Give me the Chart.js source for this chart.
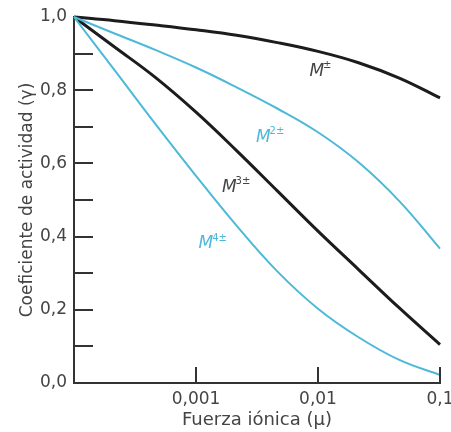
<!DOCTYPE html>
<html>
<head>
<meta charset="utf-8">
<script src="https://cdn.jsdelivr.net/npm/chart.js@4"></script>
<style>
  html, body { margin: 0; padding: 0; background: #fff; }
</style>
</head>
<body>
<canvas id="chart" width="451" height="432"></canvas>
<script>
// ionic strength (log axis, three points per decade) and activity coefficients
const ionicStrength = [0.0001, 0.000215, 0.000464, 0.001, 0.00215, 0.00464, 0.01, 0.0215, 0.0464, 0.1];
const gammaM1 = [1.0, 0.99, 0.978, 0.965, 0.95, 0.93, 0.906, 0.875, 0.833, 0.779];
const gammaM2 = [1.0, 0.955, 0.91, 0.862, 0.808, 0.75, 0.685, 0.603, 0.497, 0.367];
const gammaM3 = [1.0, 0.918, 0.835, 0.74, 0.635, 0.525, 0.415, 0.31, 0.205, 0.105];
const gammaM4 = [1.0, 0.855, 0.708, 0.566, 0.43, 0.305, 0.203, 0.125, 0.063, 0.022];

const xTickValues = [0.001, 0.01, 0.1];
const xTickLabels = ['0,001', '0,01', '0,1'];
const yTickValues = [0, 0.2, 0.4, 0.6, 0.8, 1.0];
const yTickLabels = ['0,0', '0,2', '0,4', '0,6', '0,8', '1,0'];
const yMinorTicks = [0.1, 0.2, 0.3, 0.4, 0.5, 0.6, 0.7, 0.8, 0.9];

// curve labels: superscript text and anchor in data units
const curveSups = ['±', '2±', '3±', '4±'];
const curveLabelX = [0.0085, 0.0031, 0.00163, 0.00105];
const curveLabelY = [0.85, 0.67, 0.535, 0.38];

const BLACK = '#1c1c1c';
const BLUE = '#4db9d8';
const TEXT = '#444';
const FONT = '"DejaVu Sans", sans-serif';
const labelColors = [TEXT, BLUE, TEXT, BLUE];

function series(values, color, width) {
  return {
    data: ionicStrength.map((x, i) => ({ x, y: values[i] })),
    borderColor: color,
    borderWidth: width,
    pointRadius: 0,
    fill: false,
    tension: 0.4,
    clip: false
  };
}

// tick marks drawn inward from the axes, like the original figure
const innerTicks = {
  id: 'innerTicks',
  afterDraw(chart) {
    const { ctx, chartArea, scales } = chart;
    ctx.save();
    ctx.strokeStyle = '#333';
    ctx.lineWidth = 2;
    yMinorTicks.forEach(v => {
      const y = Math.round(scales.y.getPixelForValue(v));
      ctx.beginPath();
      ctx.moveTo(chartArea.left, y);
      ctx.lineTo(chartArea.left + 19, y);
      ctx.stroke();
    });
    xTickValues.forEach(v => {
      const x = Math.round(scales.x.getPixelForValue(v));
      ctx.beginPath();
      ctx.moveTo(x, chartArea.bottom);
      ctx.lineTo(x, chartArea.bottom - 16);
      ctx.stroke();
    });
    ctx.restore();
  }
};

const curveLabels = {
  id: 'curveLabels',
  afterDatasetsDraw(chart) {
    const { ctx, scales } = chart;
    ctx.save();
    ctx.textBaseline = 'middle';
    curveSups.forEach((sup, i) => {
      const x = scales.x.getPixelForValue(curveLabelX[i]);
      const y = scales.y.getPixelForValue(curveLabelY[i]);
      ctx.fillStyle = labelColors[i];
      ctx.font = 'italic 17px ' + FONT;
      ctx.fillText('M', x, y);
      const w = ctx.measureText('M').width;
      ctx.font = '10px ' + FONT;
      ctx.fillText(sup, x + w - 1, y - 6);
    });
    ctx.restore();
  }
};

new Chart(document.getElementById('chart'), {
  type: 'line',
  data: {
    datasets: [
      series(gammaM2, BLUE, 2),
      series(gammaM4, BLUE, 2),
      series(gammaM1, BLACK, 3),
      series(gammaM3, BLACK, 3)
    ]
  },
  options: {
    responsive: false,
    animation: false,
    layout: { padding: { top: 17, right: 11, left: 0, bottom: 0 } },
    plugins: {
      legend: { display: false },
      tooltip: { enabled: false }
    },
    scales: {
      x: {
        type: 'logarithmic',
        min: 0.0001,
        max: 0.1,
        afterBuildTicks: scale => { scale.ticks = xTickValues.map(value => ({ value })); },
        afterFit: scale => {
          scale.height = 49;
          scale.paddingLeft = 0;
          scale.paddingRight = 0;
        },
        grid: { display: false, drawTicks: false },
        border: { display: true, color: '#333', width: 2 },
        ticks: {
          padding: 6,
          color: TEXT,
          font: { family: FONT, size: 17 },
          maxRotation: 0,
          callback: (v, i) => xTickLabels[i]
        },
        title: {
          display: true,
          text: 'Fuerza iónica (μ)',
          color: TEXT,
          font: { family: FONT, size: 18 },
          padding: { top: 0, bottom: 1 }
        }
      },
      y: {
        min: 0,
        max: 1,
        afterBuildTicks: scale => { scale.ticks = yTickValues.map(value => ({ value })); },
        afterFit: scale => {
          scale.width = 74;
          scale.paddingTop = 0;
          scale.paddingBottom = 0;
        },
        grid: { display: false, drawTicks: false },
        border: { display: true, color: '#333', width: 2 },
        ticks: {
          padding: 7,
          color: TEXT,
          font: { family: FONT, size: 17 },
          callback: (v, i) => yTickLabels[i]
        },
        title: {
          display: true,
          text: 'Coeficiente de actividad (γ)',
          color: TEXT,
          font: { family: FONT, size: 17 },
          padding: { top: 17, bottom: 0 }
        }
      }
    }
  },
  plugins: [innerTicks, curveLabels]
});
</script>
</body>
</html>
